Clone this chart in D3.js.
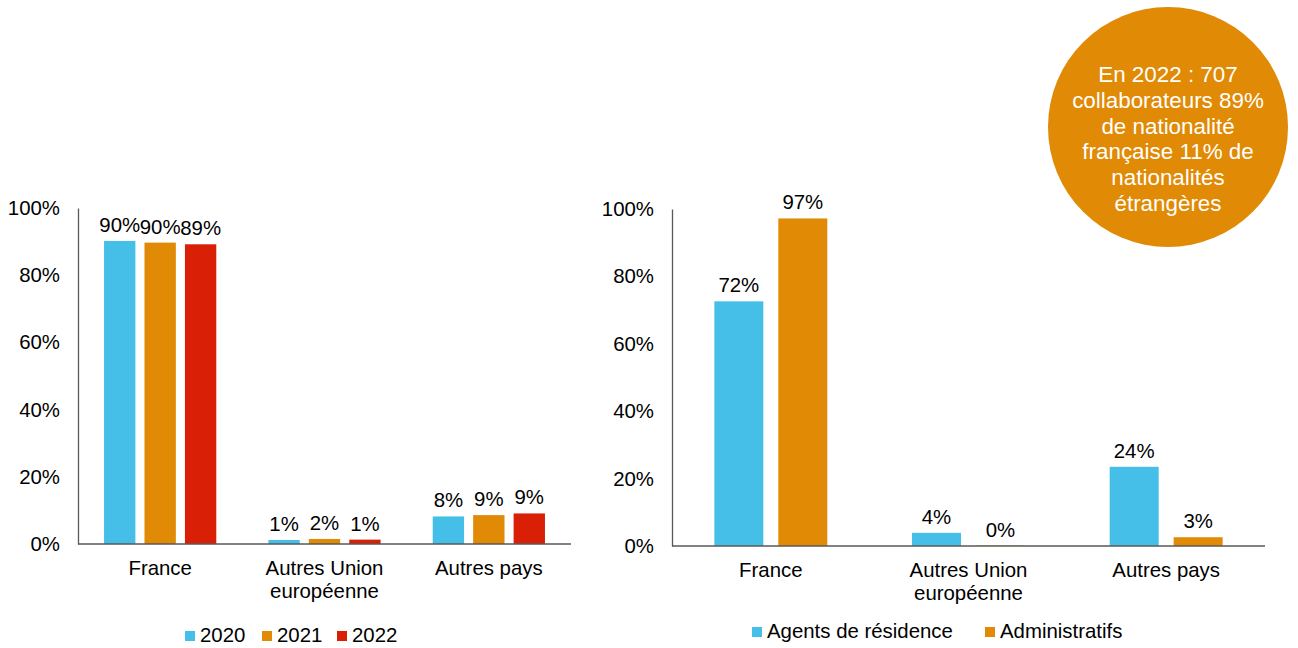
<!DOCTYPE html>
<html><head><meta charset="utf-8">
<script src="https://cdn.jsdelivr.net/npm/d3@7/dist/d3.min.js"></script>
<style>
html,body{margin:0;padding:0;background:#fff;}
svg text{font-family:"Liberation Sans",Arial,sans-serif;fill:#000;}
</style></head>
<body>
<svg id="c" width="1298" height="648"></svg>
<script>
// ---- Data ----
const leftCategories = [["France"], ["Autres Union", "européenne"], ["Autres pays"]];
const leftSeries = ["2020", "2021", "2022"];
const left2020 = [0.902, 0.012, 0.082];
const left2021 = [0.897, 0.015, 0.086];
const left2022 = [0.892, 0.013, 0.091];
const leftLabels2020 = ["90%", "1%", "8%"];
const leftLabels2021 = ["90%", "2%", "9%"];
const leftLabels2022 = ["89%", "1%", "9%"];

const rightCategories = [["France"], ["Autres Union", "européenne"], ["Autres pays"]];
const rightSeries = ["Agents de résidence", "Administratifs"];
const rightAgents = [0.726, 0.039, 0.235];
const rightAdmin = [0.972, 0.001, 0.026];
const rightLabelsAgents = ["72%", "4%", "24%"];
const rightLabelsAdmin = ["97%", "0%", "3%"];

const yTicks = [0, 0.2, 0.4, 0.6, 0.8, 1.0];
const tickLabels = ["0%", "20%", "40%", "60%", "80%", "100%"];

const calloutLines = ["En 2022 : 707", "collaborateurs 89%", "de nationalité", "française 11% de", "nationalités", "étrangères"];

const COLORS = {blue: "#45BFE8", orange: "#E08A05", red: "#D91F05", axis: "#595959"};

const svg = d3.select("#c");
const FS = 20.4;

function drawChart(opts) {
  const g = svg.append("g");
  const cats = opts.categories.map((c, i) => i);
  const x0 = d3.scaleBand().domain(cats).range([opts.x0, opts.x1])
    .paddingInner(opts.pi).paddingOuter(opts.pi / 2);
  const x1 = d3.scaleBand().domain(opts.series).range([0, x0.bandwidth()])
    .paddingInner(opts.sp).paddingOuter(0);
  const y = d3.scaleLinear().domain([0, 1]).range([opts.y0, opts.y1]);

  // y axis
  const yAxis = d3.axisLeft(y).tickValues(yTicks).tickSize(0).tickPadding(18)
    .tickFormat((d, i) => tickLabels[i]);
  const ya = g.append("g").attr("transform", `translate(${opts.x0},0)`).call(yAxis);
  ya.select(".domain").attr("stroke", COLORS.axis).attr("stroke-width", 1.3);
  ya.selectAll("text").attr("font-size", FS).attr("fill", "#000")
    .style("font-family", '"Liberation Sans",Arial,sans-serif');

  // bars
  opts.series.forEach((s, si) => {
    const vals = opts.values[si];
    const labs = opts.labels[si];
    g.selectAll(null).data(vals).enter().append("rect")
      .attr("x", (d, i) => x0(i) + x1(s))
      .attr("width", x1.bandwidth())
      .attr("y", d => y(d))
      .attr("height", d => y(0) - y(d))
      .attr("fill", opts.colors[si]);
    g.selectAll(null).data(vals).enter().append("text")
      .attr("x", (d, i) => x0(i) + x1(s) + x1.bandwidth() / 2)
      .attr("y", d => y(d) - 9)
      .attr("text-anchor", "middle")
      .attr("font-size", FS)
      .text((d, i) => labs[i]);
  });

  // x axis
  const xAxis = d3.axisBottom(x0).tickSize(0).tickFormat("");
  const xa = g.append("g").attr("transform", `translate(0,${opts.y0})`).call(xAxis);
  xa.select(".domain").attr("stroke", COLORS.axis).attr("stroke-width", 1.3)
    .attr("d", `M${opts.x0},0H${opts.x1}`);

  // category labels
  opts.categories.forEach((lines, i) => {
    const t = g.append("text").attr("text-anchor", "middle").attr("font-size", FS)
      .attr("x", x0(i) + x0.bandwidth() / 2).attr("y", opts.y0 + 31);
    lines.forEach((ln, li) => {
      t.append("tspan").attr("x", x0(i) + x0.bandwidth() / 2)
        .attr("dy", li === 0 ? 0 : 23).text(ln);
    });
  });

  // legend
  opts.series.forEach((s, si) => {
    const lx = opts.legendX[si];
    g.append("rect").attr("x", lx).attr("y", opts.legendY - 11).attr("width", 10).attr("height", 10)
      .attr("fill", opts.colors[si]);
    g.append("text").attr("x", lx + 15).attr("y", opts.legendY).attr("font-size", FS).text(s);
  });
}

drawChart({
  categories: leftCategories, series: leftSeries,
  values: [left2020, left2021, left2022],
  labels: [leftLabels2020, leftLabels2021, leftLabels2022],
  colors: [COLORS.blue, COLORS.orange, COLORS.red],
  x0: 78, x1: 571, y0: 544, y1: 208, pi: 0.317, sp: 0.225,
  legendX: [185, 262, 337], legendY: 642
});

drawChart({
  categories: rightCategories, series: rightSeries,
  values: [rightAgents, rightAdmin],
  labels: [rightLabelsAgents, rightLabelsAdmin],
  colors: [COLORS.blue, COLORS.orange],
  x0: 672, x1: 1265, y0: 546, y1: 209, pi: 0.4285, sp: 0.234,
  legendX: [752, 985], legendY: 638
});

// callout circle
const cg = svg.append("g");
cg.append("circle").attr("cx", 1168).attr("cy", 127).attr("r", 120).attr("fill", COLORS.orange);
const ct = cg.append("text").attr("text-anchor", "middle").attr("font-size", 22.4)
  .style("fill", "#fff").attr("y", 82);
calloutLines.forEach((ln, i) => {
  ct.append("tspan").attr("x", 1168).attr("dy", i === 0 ? 0 : 25.8).style("fill", "#fff").text(ln);
});
</script>
</body></html>
